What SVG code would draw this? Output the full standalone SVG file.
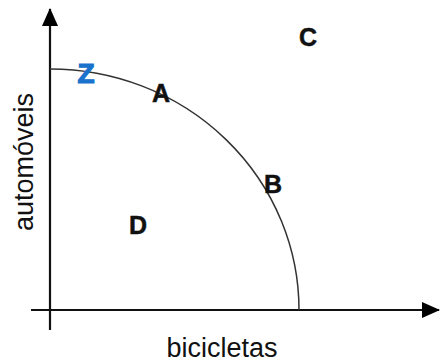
<svg xmlns="http://www.w3.org/2000/svg" width="440" height="362" viewBox="0 0 440 362">
<style>
.ax{stroke:#111;stroke-width:2.2;fill:none}
.cv{stroke:#333;stroke-width:1.5;fill:none}
.lb{font-family:"Liberation Sans",Arial,sans-serif;font-weight:bold;font-size:25px;fill:#111;stroke:#111;stroke-width:0.5;text-anchor:middle}
.t{font-family:"Liberation Sans",Arial,sans-serif;font-size:27px;fill:#111;text-anchor:middle}
</style>
<defs>
<marker id="ah" markerWidth="18" markerHeight="16" refX="17" refY="8" orient="auto" markerUnits="userSpaceOnUse" viewBox="0 0 18 16">
<path d="M0,0 L18,8 L0,16 z" fill="#000"/>
</marker>
</defs>
<g id="connectors">
<line class="ax" x1="50" y1="330" x2="50" y2="9" marker-end="url(#ah)"/>
<line class="ax" x1="31" y1="310" x2="439" y2="310" marker-end="url(#ah)"/>
<path class="cv" d="M50,69 A249,241 0 0 1 299,310"/>
</g>
<g id="Z"><text class="lb" x="86" y="83" style="fill:#1a72cc;stroke:#1a72cc;stroke-width:1.2;font-size:28px">Z</text></g>
<g id="A"><text class="lb" x="161" y="102">A</text></g>
<g id="B"><text class="lb" x="273" y="193">B</text></g>
<g id="C"><text class="lb" x="308" y="46">C</text></g>
<g id="D"><text class="lb" x="138" y="234">D</text></g>
<g id="ylabel"><text class="t" transform="translate(33,162) rotate(-90)">automóveis</text></g>
<g id="xlabel"><text class="t" x="222" y="357">bicicletas</text></g>
</svg>
